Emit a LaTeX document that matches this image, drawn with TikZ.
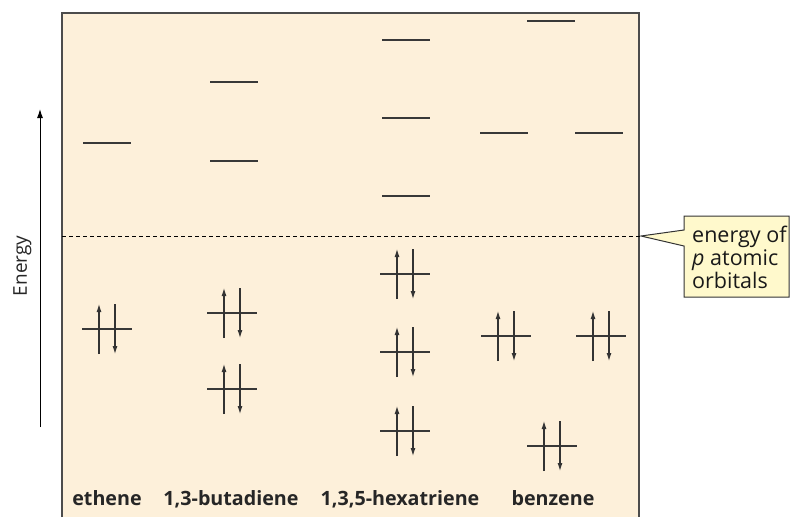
\documentclass[tikz,border=0pt]{standalone}
\usepackage{fontspec}
\setmainfont{Open Sans}
\usetikzlibrary{arrows.meta}
\definecolor{peach}{RGB}{253,240,218}
\definecolor{note}{RGB}{255,249,204}
\tikzset{
  lvl/.style={draw=black!78, line width=1.2pt},
  spin/.style={draw=black!80, line width=1.1pt, -{Latex[length=8pt,width=5pt]}},
  mol/.style={font=\fontsize{19.7}{23}\selectfont\bfseries, text=black!85, anchor=base, inner sep=0pt},
}
\newcommand\orb[2]{\draw[lvl] (#1-24,#2) -- (#1+24,#2);}
\newcommand\pair[2]{%
  \draw[lvl] (#1-25,#2) -- (#1+25,#2);
  \draw[spin] (#1-8,#2+25) -- (#1-8,#2-25);
  \draw[spin] (#1+8,#2-25) -- (#1+8,#2+25);}
\begin{document}
\begin{tikzpicture}[x=1pt,y=-1pt]
\useasboundingbox (0,0) rectangle (790,517);
% panel
\fill[peach] (62,13) rectangle (639,517);
\draw[black!70, line width=1.1pt] (62,517) -- (62,13) -- (639,13) -- (639,517);
% energy axis
\coordinate (ebot) at (40,427);
\coordinate (etop) at (40,109);
\draw[line width=1pt, -{Latex[length=9pt,width=6pt]}] (ebot) -- (etop);
\node[rotate=90, anchor=base, inner sep=0pt, font=\fontsize{19}{22}\selectfont, text=black!85] (elabel) at (27,266) {Energy};
% ethene
\orb{107}{143}
\pair{107}{329}
% 1,3-butadiene
\orb{234}{82}
\orb{234}{161}
\pair{232}{313}
\pair{232}{389}
% 1,3,5-hexatriene
\orb{406}{40}
\orb{406}{118}
\orb{406}{196}
\pair{405}{274}
\pair{405}{352}
\pair{405}{431}
% benzene
\orb{551}{21}
\orb{504}{133}
\orb{599}{133}
\pair{506}{336}
\pair{601}{336}
\pair{552}{446}
% dashed line and callout
\coordinate (dl) at (62,236);
\coordinate (tip) at (641,236);
\draw[dashed, line width=0.9pt, dash pattern=on 4pt off 3pt] (dl) -- (tip);
\draw[fill=note, draw=black!80, line width=1pt]
  (tip) -- (684,230) -- (684,216) -- (789,216) -- (789,297) -- (684,297) -- (684,246) -- cycle;
\node[anchor=base west, align=left, inner sep=0pt, font=\fontsize{21.5}{23}\selectfont, text=black!90] (note) at (692,288)
  {energy of\\\textit{p} atomic\\orbitals};
% labels
\node[mol] (l1) at (107,505) {ethene};
\node[mol] (l2) at (231,505) {1,3-butadiene};
\node[mol] (l3) at (400,505) {1,3,5-hexatriene};
\node[mol] (l4) at (553,505) {benzene};
\end{tikzpicture}
\end{document}
